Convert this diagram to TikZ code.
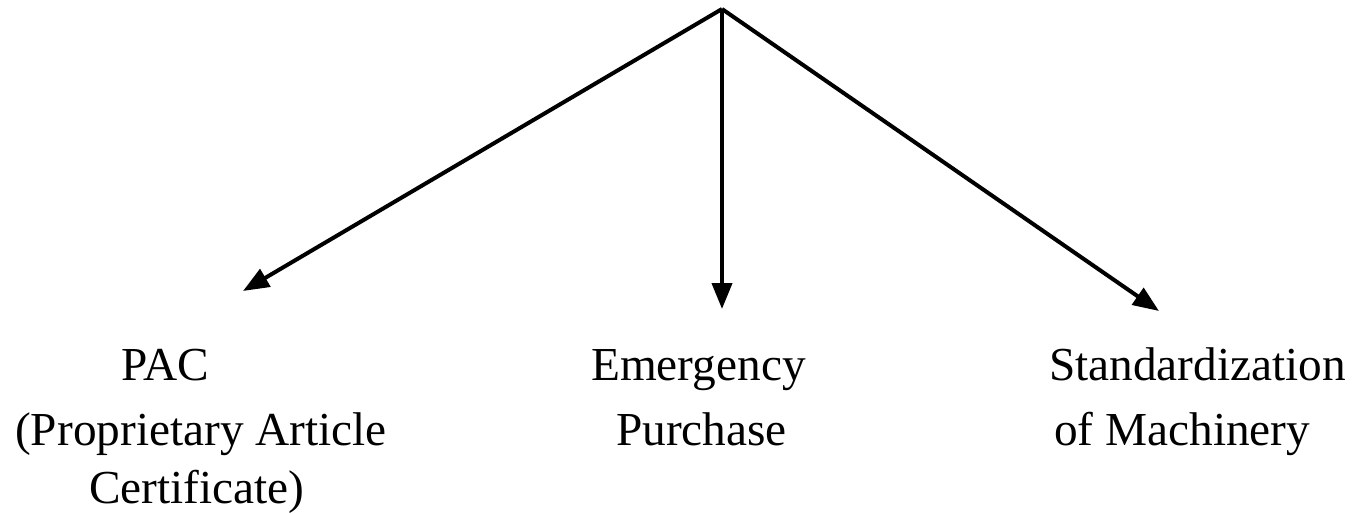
\documentclass[tikz,border=0pt]{standalone}
\usepackage{fontspec}
\setmainfont{Liberation Serif}
\usetikzlibrary{arrows.meta}
\begin{document}
\begin{tikzpicture}[x=1pt,y=-1pt,
  conn/.style={line width=4pt,-{Triangle[length=26pt,width=20pt]}},
  lbl/.style={inner sep=0pt,anchor=base west,font=\fontsize{47.3}{54}\selectfont}]
\useasboundingbox (0,0) rectangle (1355,514);
\coordinate (top) at (722,9);
\coordinate (tl) at (243,291);
\coordinate (tm) at (722,309);
\coordinate (tr) at (1159,311);
\draw[conn] (top) -- (tl);
\draw[conn] (top) -- (tm);
\draw[conn] (top) -- (tr);
\node[lbl] (pac) at (121,380) {PAC};
\node[lbl] (prop) at (15,445) {(Proprietary Article};
\node[lbl] (cert) at (89,503) {Certificate)};
\node[lbl] (emer) at (591,380) {Emergency};
\node[lbl] (purch) at (616,445) {Purchase};
\node[lbl] (stand) at (1049,380) {Standardization};
\node[lbl] (mach) at (1054,445) {of Machinery};
\end{tikzpicture}
\end{document}
